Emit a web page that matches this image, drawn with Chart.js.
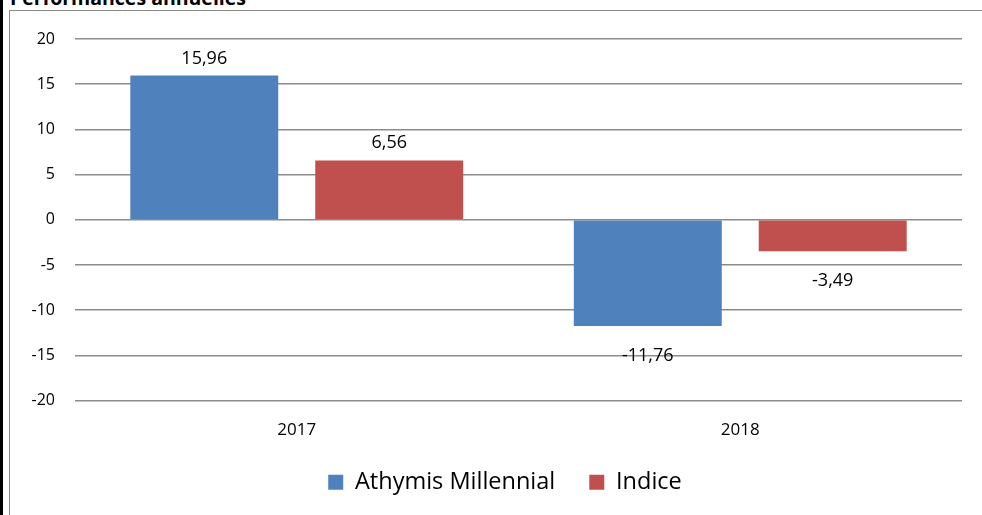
<!DOCTYPE html>
<html>
<head>
<meta charset="utf-8">
<script src="https://cdn.jsdelivr.net/npm/chart.js@4/dist/chart.umd.min.js"></script>
<style>
  html, body { margin: 0; padding: 0; background: #fff; }
  body { width: 982px; height: 515px; position: relative; overflow: hidden; font-family: "Open Sans", sans-serif; }
  .strip { position: absolute; left: 0; top: 0; width: 3px; height: 515px; background: #000; }
  .frame { position: absolute; left: 9px; top: 10px; width: 990px; height: 520px; border: 1px solid #8a8a8a; box-sizing: border-box; }
  .title { position: absolute; left: 10px; top: -15px; font-weight: bold; font-size: 19.5px; line-height: 26px; color: #000; white-space: nowrap; }
  .wrap { position: absolute; left: 0; top: 0; width: 982px; height: 515px; }
</style>
</head>
<body>
<div class="strip"></div>
<div class="frame"></div>
<div class="title">Performances annuelles</div>
<div class="wrap"><canvas id="c" width="982" height="515"></canvas></div>
<script>
const years = ['2017', '2018'];
const athymis = [15.96, -11.76];
const indice = [6.56, -3.49];
const seriesNames = ['Athymis Millennial', 'Indice'];

const fmt = v => v.toFixed(2).replace('.', ',');

// value labels above positive bars, below negative ones
const valueLabels = {
  id: 'valueLabels',
  afterDatasetsDraw(chart) {
    const ctx = chart.ctx;
    ctx.save();
    ctx.font = '18px "Open Sans", sans-serif';
    ctx.fillStyle = '#000';
    ctx.textAlign = 'center';
    ctx.textBaseline = 'alphabetic';
    chart.data.datasets.forEach((ds, i) => {
      chart.getDatasetMeta(i).data.forEach((bar, j) => {
        const v = ds.data[j];
        const y = v >= 0 ? bar.y - 12 : bar.y + 35;
        ctx.fillText(fmt(v), bar.x, y);
      });
    });
    ctx.restore();
  }
};

// the legend sits a bit right of the page centre
const legendShift = {
  id: 'legendShift',
  afterLayout(chart) {
    if (chart.legend) {
      chart.legend.left += 24;
      chart.legend.right += 24;
    }
  }
};

new Chart(document.getElementById('c').getContext('2d'), {
  type: 'bar',
  data: {
    labels: years,
    datasets: [
      { label: seriesNames[0], data: athymis, backgroundColor: '#4F81BD' },
      { label: seriesNames[1], data: indice, backgroundColor: '#C0504D' }
    ]
  },
  options: {
    responsive: false,
    animation: false,
    devicePixelRatio: 1,
    categoryPercentage: 0.834,
    barPercentage: 0.8,
    layout: { padding: { top: 39, right: 20, bottom: 11, left: 0 } },
    scales: {
      x: {
        // labels stay at padding below the plot, legend sits closer
        afterFit(scale) { scale.height = 36; },
        grid: { display: false, drawTicks: false },
        border: { display: false },
        ticks: { color: '#000', font: { family: 'Open Sans', size: 17 }, padding: 19 }
      },
      y: {
        min: -20,
        max: 20,
        afterFit(scale) { scale.width = 75; },
        grid: { color: '#8c8c8c', lineWidth: 1.5, drawTicks: false },
        border: { display: false },
        ticks: { stepSize: 5, color: '#000', font: { family: 'Open Sans', size: 16 }, padding: 20 }
      }
    },
    plugins: {
      legend: {
        position: 'bottom',
        labels: {
          color: '#000',
          font: { family: 'Open Sans', size: 23.5 },
          boxWidth: 15,
          boxHeight: 15,
          padding: 34
        }
      },
      tooltip: { enabled: false }
    }
  },
  plugins: [valueLabels, legendShift]
});
</script>
</body>
</html>
